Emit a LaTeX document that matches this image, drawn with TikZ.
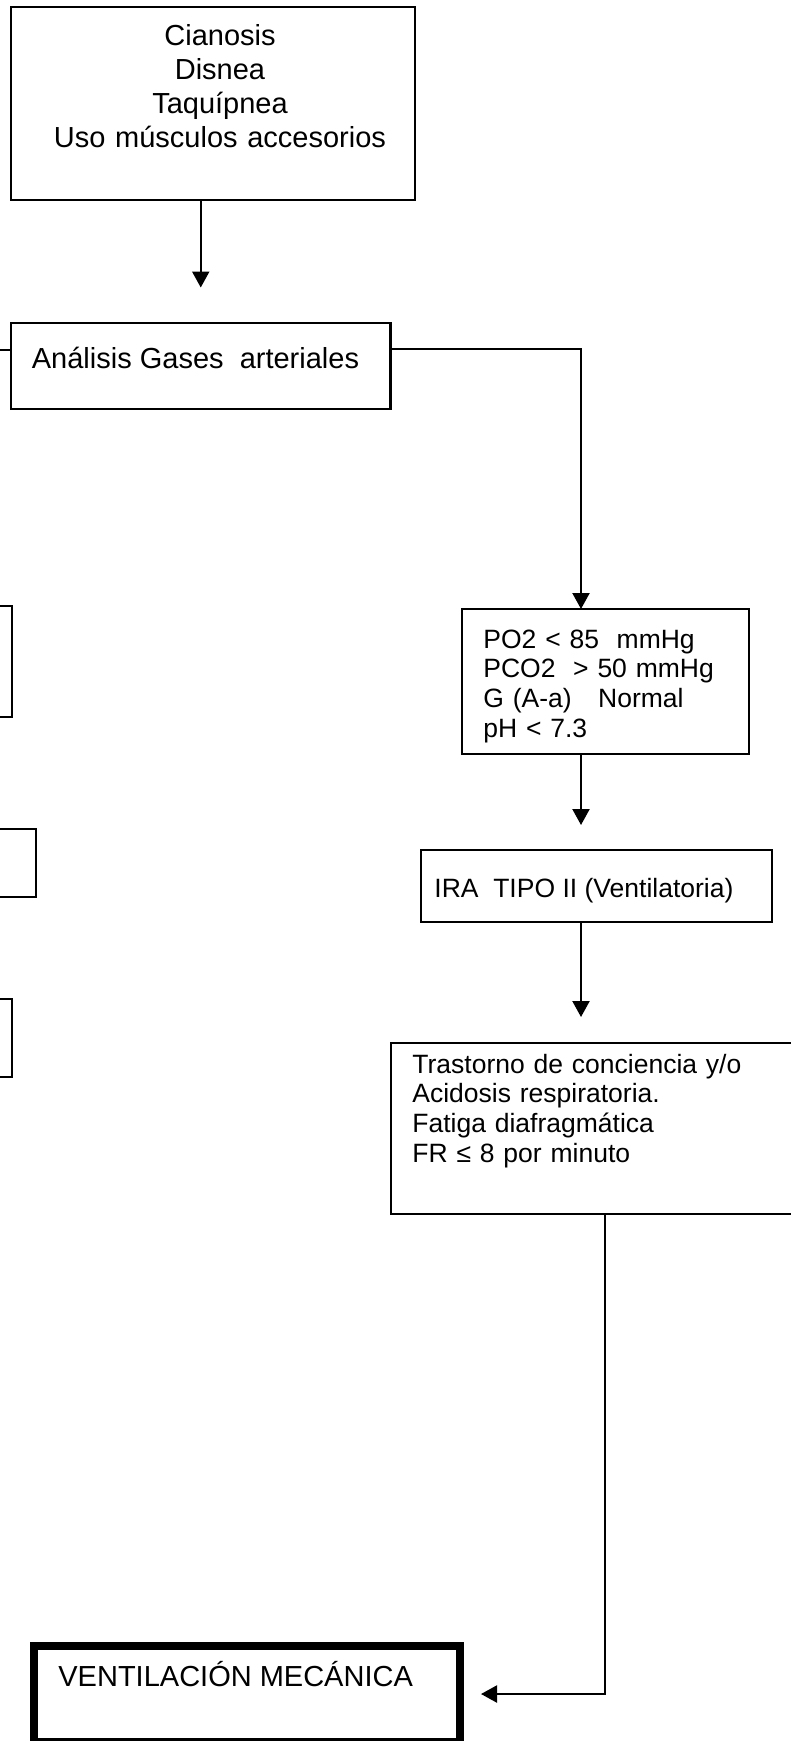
\documentclass[tikz,border=0pt]{standalone}
\usepackage{fontspec}
\setmainfont{Liberation Sans}
\usetikzlibrary{arrows.meta}
\tikzset{
  box/.style={draw, line width=1.1pt, inner sep=0pt, outer sep=0pt, rectangle},
  bigbox/.style={draw, line width=4pt, inner sep=0pt, outer sep=0pt, rectangle},
  bigtxt/.style={inner sep=0pt, font=\fontsize{14.5}{17.15}\selectfont},
  smalltxt/.style={inner sep=0pt, font=\fontsize{13.25}{14.85}\selectfont},
  conn/.style={line width=1.1pt, -{Triangle[length=8pt,width=8.5pt]}},
  plain/.style={line width=1.1pt}
}
\begin{document}
\begin{tikzpicture}[x=0.5pt,y=-0.5pt]
\useasboundingbox (0,0) rectangle (791,1741);
\fill[white] (0,0) rectangle (791,1741);
% boxes
\node[box, minimum width=202pt, minimum height=96.5pt] (top) at (213,103.5) {};
\node[box, minimum width=189.75pt, minimum height=43pt] (ana) at (200.75,366) {};
\node[box, minimum width=143.5pt, minimum height=72.5pt] (po2) at (605.5,681.5) {};
\node[box, minimum width=175.5pt, minimum height=36pt] (ira) at (596.5,886) {};
\node[box, minimum width=219.5pt, minimum height=85.5pt] (tras) at (610.5,1128.5) {};
\node[bigbox, minimum width=213pt, minimum height=48pt] (vent) at (247,1694) {};
% partially visible boxes on the left edge
\node[box, minimum width=36.15pt, minimum height=55.5pt] (leftA) at (-23.85,661.5) {};
\node[box, minimum width=47.85pt, minimum height=34pt] (leftB) at (-12.15,863) {};
\node[box, minimum width=35.85pt, minimum height=39pt] (leftC) at (-24.15,1038) {};
% texts
\node[bigtxt, anchor=base, text width=190pt, align=center] (topt) at (220,45)
  {Cianosis\\Disnea\\Taquípnea\\Uso músculos accesorios};
\node[bigtxt, anchor=base west] (anat) at (31.5,368) {Análisis Gases~~arteriales};
\node[smalltxt, anchor=base west, text width=130pt, align=left] (po2t) at (483,648)
  {PO2 < 85~~mmHg\\PCO2~~> 50 mmHg\\G (A-a)~~~Normal\\pH < 7.3};
\node[smalltxt, anchor=base west] (irat) at (434,897) {IRA~~TIPO II (Ventilatoria)};
\node[smalltxt, anchor=base west, text width=180pt, align=left] (trast) at (412,1073)
  {Trastorno de conciencia y/o\\Acidosis respiratoria.\\Fatiga diafragmática\\FR ≤ 8 por minuto};
\node[bigtxt, anchor=base west] (ventt) at (58,1686) {VENTILACIÓN MECÁNICA};
% helper coordinates
\coordinate (c1) at (581,349);
\coordinate (c2) at (605,1694);
\coordinate (stub) at (-20,350);
% connectors
\draw[conn, shorten >=17.75pt] (top.south -| ana.north) -- (ana.north);
\draw[conn] (ana.east |- c1) -- (c1) -- (c1 |- po2.north);
\draw[conn, shorten >=12.5pt] (c1 |- po2.south) -- (c1 |- ira.north);
\draw[conn, shorten >=13pt] (c1 |- ira.south) -- (c1 |- tras.north);
\draw[conn, shorten >=10.5pt] (c2 |- tras.south) -- (c2) -- (vent.east |- c2);
\draw[plain] (ana.west |- stub) -- (stub);
\end{tikzpicture}
\end{document}
